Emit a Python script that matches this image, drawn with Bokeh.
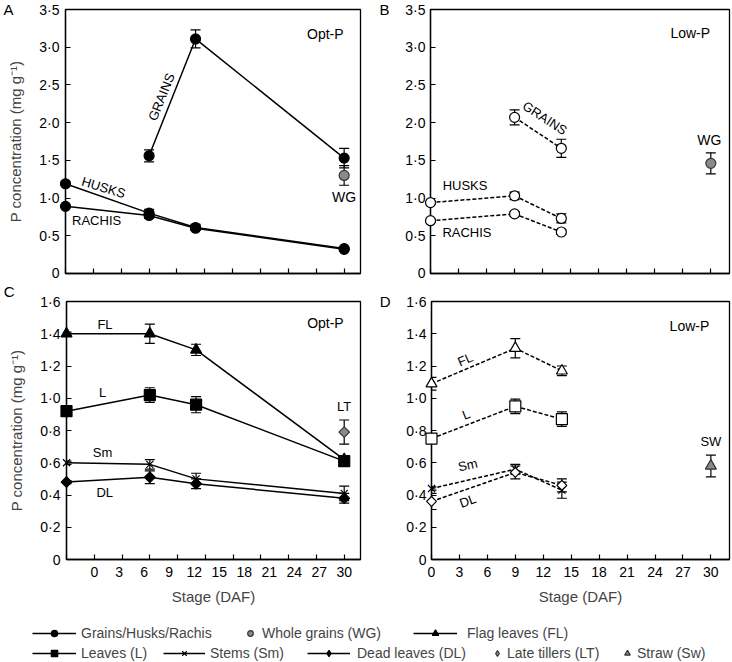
from bokeh.plotting import figure
from bokeh.models import (ColumnDataSource, Whisker, TeeHead, FixedTicker, LinearAxis,
                          Legend, LegendItem, Range1d, CustomLabelingPolicy)
from bokeh.layouts import column, row
from bokeh.core.properties import value
from bokeh.embed import file_html
from bokeh.resources import INLINE

FONT = "Liberation Sans"

# ---------------- data ----------------
x_ticks = [0, 3, 6, 9, 12, 15, 18, 21, 24, 27, 30]
x_tick_labels = ["0", "3", "6", "9", "12", "15", "18", "21", "24", "27", "30"]
y_ticks_top = [0, 0.5, 1.0, 1.5, 2.0, 2.5, 3.0, 3.5]
y_labels_top = ["0", "0·5", "1·0", "1·5", "2·0", "2·5", "3·0", "3·5"]
y_ticks_bot = [0, 0.2, 0.4, 0.6, 0.8, 1.0, 1.2, 1.4, 1.6]
y_labels_bot = ["0", "0·2", "0·4", "0·6", "0·8", "1·0", "1·2", "1·4", "1·6"]
panel_letters = ["A", "B", "C", "D"]

# Panel A (Opt-P), stages 0, 9, 14, 30 DAF
opt_stage = [0, 9, 14, 30]
opt_grain_stage = [9, 14, 30]
opt_grains = [1.56, 3.11, 1.53]
opt_grains_err = [0.08, 0.12, 0.13]
opt_husks = [1.19, 0.80, 0.61, 0.33]
opt_husks_err = [0.02, 0.05, 0.04, 0.02]
opt_rachis = [0.89, 0.77, 0.60, 0.32]
opt_rachis_err = [0.02, 0.04, 0.03, 0.02]
opt_wg_stage = [30]
opt_wg = [1.30]
opt_wg_err = [0.13]

# Panel B (Low-P), stages 0, 9, 14 DAF
low_stage = [0, 9, 14]
low_grain_stage = [9, 14]
low_grains = [2.07, 1.66]
low_grains_err = [0.10, 0.12]
low_husks = [0.94, 1.03, 0.73]
low_husks_err = [0.02, 0.05, 0.06]
low_rachis = [0.70, 0.79, 0.55]
low_rachis_err = [0.02, 0.03, 0.03]
low_wg_stage = [30]
low_wg = [1.46]
low_wg_err = [0.14]

# Panel C (Opt-P)
opt_fl = [1.40, 1.40, 1.30, 0.62]
opt_fl_err = [0.01, 0.06, 0.035, 0.02]
opt_l = [0.92, 1.02, 0.96, 0.61]
opt_l_err = [0.01, 0.045, 0.05, 0.02]
opt_sm = [0.60, 0.59, 0.50, 0.41]
opt_sm_err = [0.01, 0.03, 0.035, 0.045]
opt_dl = [0.48, 0.51, 0.47, 0.38]
opt_dl_err = [0.01, 0.04, 0.03, 0.03]
opt_lt_stage = [30]
opt_lt = [0.79]
opt_lt_err = [0.075]

# Panel D (Low-P)
low_fl = [1.09, 1.31, 1.17]
low_fl_err = [0.04, 0.06, 0.03]
low_l = [0.75, 0.95, 0.87]
low_l_err = [0.03, 0.045, 0.045]
low_sm = [0.44, 0.56, 0.43]
low_sm_err = [0.01, 0.03, 0.05]
low_dl = [0.36, 0.54, 0.46]
low_dl_err = [0.05, 0.04, 0.04]
low_sw_stage = [30]
low_sw = [0.58]
low_sw_err = [0.067]

# squeezed tick labels printed under panel C
c_label_pos = [3 + 2.7 * k for k in range(11)]

YLABEL = "P concentration (mg g\u207b\u00b9)"
GREY = "#8a8a8a"
DIAMOND = dict(marker="square", angle=45, angle_units="deg")


def make_fig(width, height, bl, br, bt, bb, xmax, ymax, yticks, ylabels):
    p = figure(width=width, height=height, x_range=Range1d(0, xmax), y_range=Range1d(0, ymax),
               output_backend="svg", toolbar_location=None,
               min_border_left=bl, min_border_right=br, min_border_top=bt, min_border_bottom=bb)
    p.grid.visible = False
    p.outline_line_color = "black"
    p.outline_line_width = 1.3
    p.outline_line_alpha = 1.0
    p.xaxis.ticker = FixedTicker(ticks=x_ticks)
    p.xaxis.major_label_overrides = dict(zip(x_ticks, x_tick_labels))
    p.yaxis.ticker = FixedTicker(ticks=yticks)
    p.yaxis.major_label_overrides = dict(zip(yticks, ylabels))
    for ax in (p.xaxis[0], p.yaxis[0]):
        ax.major_tick_in = 5
        ax.major_tick_out = 0
        ax.minor_tick_line_color = None
        ax.axis_line_width = 1.3
        ax.major_tick_line_width = 1.2
        ax.major_label_text_font = FONT
        ax.major_label_text_font_size = "14px"
        ax.major_label_text_color = "black"
        ax.axis_label_text_font = FONT
        ax.axis_label_text_font_style = "normal"
        ax.axis_label_text_font_size = "15px"
    p.yaxis.major_label_standoff = 6
    p.xaxis.major_label_standoff = 4
    return p


def whisk(p, xs, ys, errs):
    src = ColumnDataSource(dict(x=xs, lower=[v - e for v, e in zip(ys, errs)],
                                upper=[v + e for v, e in zip(ys, errs)]))
    w = Whisker(source=src, base="x", lower="lower", upper="upper", line_color="black", line_width=1.2,
                upper_head=TeeHead(size=10, line_color="black", line_width=1.2),
                lower_head=TeeHead(size=10, line_color="black", line_width=1.2))
    p.add_layout(w)


def series(p, xs, ys, errs, marker, fill, dash, size, line=True):
    whisk(p, xs, ys, errs)
    if line:
        p.line(xs, ys, line_color="black", line_width=1.5, line_dash=dash)
    mk = DIAMOND if marker == "diamond" else dict(marker=marker)
    p.scatter(xs, ys, size=size, fill_color=fill,
              line_color="black" if fill != GREY else "#333333", line_width=1.2, level="overlay", **mk)


def txt(p, x, y, s, size="13px", angle=0.0):
    p.text(x=[x], y=[y], text=[s], angle=angle, angle_units="deg", text_font=value(FONT),
           text_font_size=size, text_align="center", text_baseline="middle", text_color="black")


def letter(p, s, ytick, standoff):
    ax = LinearAxis(ticker=FixedTicker(ticks=[ytick]), major_label_overrides={ytick: s},
                    axis_line_color=None, major_tick_line_color=None, minor_tick_line_color=None,
                    major_tick_in=0, major_tick_out=0, major_label_standoff=standoff,
                    major_label_text_font=FONT, major_label_text_font_size="15px",
                    major_label_text_color="black")
    p.add_layout(ax, "left")


def hide_x_labels(p):
    p.xaxis.major_label_policy = CustomLabelingPolicy(code="return []")
    p.xaxis.major_label_text_font_size = "1px"
    p.xaxis.major_label_standoff = 0


# ---------------- Panel A ----------------
pA = make_fig(376, 280, 60, 16, 9, 7, 31.76, 3.5, y_ticks_top, y_labels_top)
hide_x_labels(pA)
pA.yaxis.axis_label = YLABEL
pA.yaxis.axis_label_standoff = 12
series(pA, opt_grain_stage, opt_grains, opt_grains_err, "circle", "black", "solid", 10)
series(pA, opt_stage, opt_rachis, opt_rachis_err, "circle", "black", "solid", 10)
series(pA, opt_stage, opt_husks, opt_husks_err, "circle", "black", "solid", 10)
series(pA, opt_wg_stage, opt_wg, opt_wg_err, "circle", GREY, "solid", 10, line=False)
txt(pA, 10.33, 2.34, "GRAINS", angle=68)
txt(pA, 4.1, 1.14, "HUSKS", angle=-17)
txt(pA, 3.35, 0.70, "RACHIS")
txt(pA, 30.0, 1.01, "WG", size="14px")
txt(pA, 27.97, 3.18, "Opt-P", size="14px")
letter(pA, panel_letters[0], 3.5, -9)

# ---------------- Panel B ----------------
pB = make_fig(355, 280, 47, 2, 9, 7, 32, 3.5, y_ticks_top, y_labels_top)
hide_x_labels(pB)
pB.yaxis.major_label_standoff = 5
series(pB, low_grain_stage, low_grains, low_grains_err, "circle", "white", "4 2", 10)
series(pB, low_stage, low_rachis, low_rachis_err, "circle", "white", "4 2", 10)
series(pB, low_stage, low_husks, low_husks_err, "circle", "white", "4 2", 10)
series(pB, low_wg_stage, low_wg, low_wg_err, "circle", GREY, "solid", 10, line=False)
txt(pB, 12.24, 2.06, "GRAINS", angle=-33)
txt(pB, 3.7, 1.17, "HUSKS")
txt(pB, 3.9, 0.55, "RACHIS")
txt(pB, 29.85, 1.77, "WG", size="14px")
txt(pB, 27.8, 3.19, "Low-P", size="14px")
letter(pB, panel_letters[1], 3.5, 13)

# ---------------- Panel C ----------------
pC = make_fig(376, 327, 60, 16, 21, 46, 31.76, 1.6, y_ticks_bot, y_labels_bot)
hide_x_labels(pC)
pC.yaxis.axis_label = YLABEL
pC.yaxis.axis_label_standoff = 12
ax2 = LinearAxis(ticker=FixedTicker(ticks=c_label_pos),
                 major_label_overrides=dict(zip(c_label_pos, x_tick_labels)),
                 axis_line_color=None, major_tick_line_color=None, minor_tick_line_color=None,
                 major_tick_in=0, major_tick_out=0,
                 major_label_text_font=FONT, major_label_text_font_size="14px",
                 major_label_text_color="black",
                 major_label_standoff=3, axis_label="Stage (DAF)", axis_label_text_font=FONT,
                 axis_label_text_font_style="normal", axis_label_text_font_size="15px",
                 axis_label_standoff=8)
pC.add_layout(ax2, "below")
series(pC, opt_stage, opt_fl, opt_fl_err, "triangle", "black", "solid", 11)
series(pC, opt_stage, opt_l, opt_l_err, "square", "black", "solid", 11)
series(pC, opt_stage, opt_sm, opt_sm_err, "x", "black", "solid", 10)
series(pC, opt_stage, opt_dl, opt_dl_err, "diamond", "black", "solid", 7.5)
series(pC, opt_lt_stage, opt_lt, opt_lt_err, "diamond", GREY, "solid", 7.5, line=False)
txt(pC, 4.16, 1.457, "FL")
txt(pC, 3.9, 1.034, "L")
txt(pC, 3.9, 0.665, "Sm")
txt(pC, 4.13, 0.417, "DL")
txt(pC, 29.98, 0.947, "LT")
txt(pC, 27.97, 1.465, "Opt-P", size="14px")
letter(pC, panel_letters[2] + "\n ", 1.6, -9)

# ---------------- Panel D ----------------
pD = make_fig(355, 327, 47, 2, 21, 46, 32, 1.6, y_ticks_bot, y_labels_bot)
pD.yaxis.major_label_standoff = 5
pD.xaxis.major_label_standoff = 7
pD.xaxis.axis_label = "Stage (DAF)"
pD.xaxis.axis_label_standoff = 8
series(pD, low_stage, low_fl, low_fl_err, "triangle", "white", "4 2", 11)
series(pD, low_stage, low_l, low_l_err, "square", "white", "4 2", 11)
series(pD, low_stage, low_sm, low_sm_err, "x", "white", "4 2", 10)
series(pD, low_stage, low_dl, low_dl_err, "diamond", "white", "4 2", 7)
series(pD, low_sw_stage, low_sw, low_sw_err, "triangle", GREY, "solid", 11, line=False)
txt(pD, 3.62, 1.24, "FL", angle=23)
txt(pD, 3.72, 0.90, "L", angle=22)
txt(pD, 3.9, 0.586, "Sm", angle=13)
txt(pD, 3.9, 0.363, "DL", angle=20)
txt(pD, 30.0, 0.733, "SW")
txt(pD, 27.7, 1.45, "Low-P", size="14px")
letter(pD, panel_letters[3], 1.6, 13)

# ---------------- Legend ----------------
pL = figure(width=731, height=54, x_range=Range1d(0, 1), y_range=Range1d(0, 1),
            output_backend="svg", toolbar_location=None, min_border=0)
pL.axis.visible = False
pL.grid.visible = False
pL.outline_line_color = None


def dummy(marker, fill, line=True, size=10):
    rs = []
    if line:
        rs.append(pL.line(x=[-5, -4], y=[-5, -5], line_color="black", line_width=1.5))
    rs.append(pL.scatter(x=[-5], y=[-5], marker=marker, size=size, fill_color=fill,
                         line_color="black" if fill != GREY else "#333333", line_width=1.2))
    return rs


def add_leg(rs, label, x, y, gw, standoff):
    leg = Legend(items=[LegendItem(label=label, renderers=rs)], location=(x, y),
                 orientation="horizontal", glyph_width=gw, glyph_height=16, label_standoff=standoff,
                 padding=0, margin=0, spacing=0, border_line_color=None, background_fill_alpha=0,
                 label_text_font=FONT, label_text_font_size="14px", label_height=16)
    pL.add_layout(leg, "center")


add_leg(dummy("circle", "black"), "Grains/Husks/Rachis", 32, 20, 44, 5)
add_leg(dummy("circle", GREY, line=False), "Whole grains (WG)", 243, 20, 14, 5)
add_leg(dummy("triangle", "black", size=11), "Flag leaves (FL)", 413, 20, 44, 10)
add_leg(dummy("square", "black", size=10), "Leaves (L)", 32, 0, 44, 5)
add_leg(dummy("x", "black"), "Stems (Sm)", 163, 0, 42, 5)
add_leg(dummy("diamond", "black", size=13), "Dead leaves (DL)", 307, 0, 43, 7)
add_leg(dummy("diamond", GREY, line=False, size=13), "Late tillers (LT)", 490, 0, 14, 3)
add_leg(dummy("triangle", GREY, line=False, size=11), "Straw (Sw)", 620, 0, 14, 3)

layout = column(row(pA, pB), row(pC, pD), pL)
open("out.html", "w").write(file_html(layout, INLINE))
